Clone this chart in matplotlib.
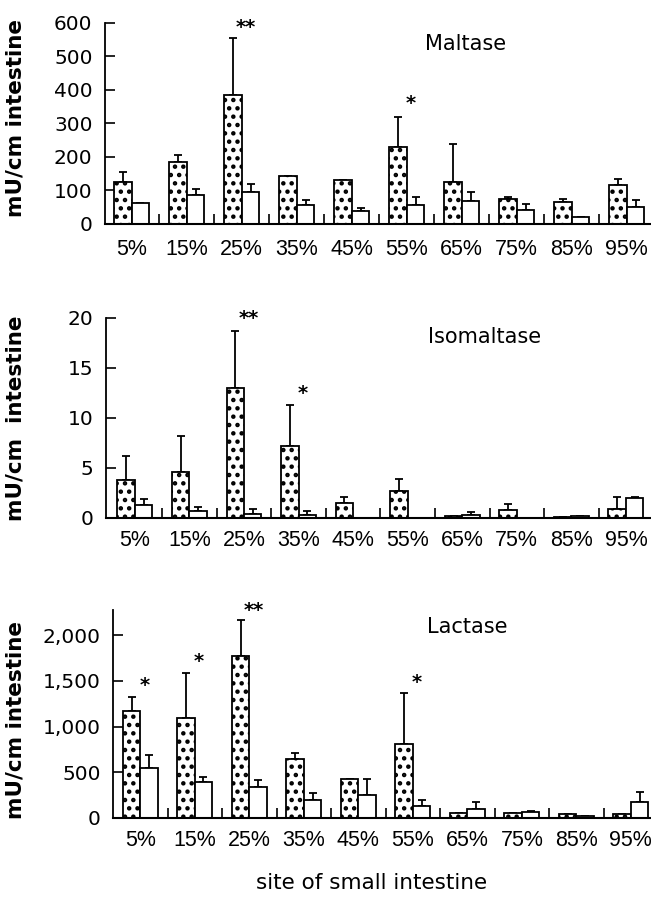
import numpy as np
import matplotlib
matplotlib.use("Agg")
import matplotlib.pyplot as plt

# ---------------- data ----------------
sites = ['5%', '15%', '25%', '35%', '45%', '55%', '65%', '75%', '85%', '95%']
nan = np.nan

maltase_dotted = [126, 185, 383, 144, 130, 229, 126, 73, 64, 116]
maltase_dotted_err = [29, 20, 172, nan, nan, 90, 111, 8, 10, 18]
maltase_open = [61, 86, 94, 57, 39, 56, 69, 42, 22, 50]
maltase_open_err = [nan, 17, 25, 15, 8, 25, 26, 16, nan, 20]
maltase_stars = [(2, '**', 603), (5, '*', 376)]

iso_dotted = [3.77, 4.58, 13.0, 7.2, 1.53, 2.7, 0.2, 0.83, 0.05, 0.93]
iso_dotted_err = [2.4, 3.6, 5.7, 4.05, 0.57, 1.2, nan, 0.6, nan, 1.14]
iso_open = [1.27, 0.73, 0.36, 0.3, 0.0, 0.0, 0.3, 0.0, 0.2, 1.95]
iso_open_err = [0.6, 0.37, 0.57, 0.36, nan, nan, 0.3, nan, nan, 0.1]
iso_stars = [(2, '**', 20.5), (3, '*', 13.0)]

lactase_dotted = [1168, 1099, 1777, 648, 429, 810, 59, 56, 48, 48]
lactase_dotted_err = [151, 483, 384, 59, nan, 556, nan, nan, nan, nan]
lactase_open = [546, 392, 337, 201, 256, 128, 100, 67, 22, 174]
lactase_open_err = [146, 55, 84, 74, 173, 73, 74, 14, nan, 115]
lactase_stars = [(0, '*', 1509), (1, '*', 1773), (2, '**', 2326), (5, '*', 1546)]

y_label = 'mU/cm intestine'
x_label = 'site of small intestine'

# ---------------- style ----------------
plt.rcParams['font.family'] = ['DejaVu Sans']
plt.rcParams['hatch.linewidth'] = 2.0
XT_FONT = ['Liberation Sans', 'DejaVu Sans']

fig = plt.figure(figsize=(6.51, 8.98), dpi=100)

panels = [
    dict(rect=[0.1613, 0.7506, 0.8387, 0.2242], xlim=(-0.485, 9.44), ylim=(0, 600),
         yticks=[0, 100, 200, 300, 400, 500, 600], ylabels=['0', '100', '200', '300', '400', '500', '600'],
         d=maltase_dotted, de=maltase_dotted_err, o=maltase_open, oe=maltase_open_err,
         stars=maltase_stars, title='Maltase', tpos=(0.661, 0.894), ylab=y_label, ylab_y=0.8686,
         xpad=11),
    dict(rect=[0.1628, 0.4232, 0.8372, 0.2227], xlim=(-0.53, 9.46), ylim=(0, 20),
         yticks=[0, 5, 10, 15, 20], ylabels=['0', '5', '10', '15', '20'],
         d=iso_dotted, de=iso_dotted_err, o=iso_open, oe=iso_open_err,
         stars=iso_stars, title='Isomaltase', tpos=(0.694, 0.906), ylab='mU/cm  intestine', ylab_y=0.5345,
         xpad=9),
    dict(rect=[0.1736, 0.0891, 0.8264, 0.2316], xlim=(-0.5, 9.37), ylim=(0, 2275),
         yticks=[0, 500, 1000, 1500, 2000], ylabels=['0', '500', '1,000', '1,500', '2,000'],
         d=lactase_dotted, de=lactase_dotted_err, o=lactase_open, oe=lactase_open_err,
         stars=lactase_stars, title='Lactase', tpos=(0.658, 0.92), ylab=y_label, ylab_y=0.198,
         xpad=9),
]

bw = 0.32
x = np.arange(len(sites))

for p in panels:
    ax = fig.add_axes(p['rect'])
    ax.bar(x - bw / 2, p['d'], width=bw, facecolor='white', edgecolor='black',
           linewidth=1.3, hatch='..', zorder=2)
    ax.bar(x + bw / 2, p['o'], width=bw, facecolor='white', edgecolor='black',
           linewidth=1.3, zorder=2)
    de = np.array(p['de'], dtype=float)
    oe = np.array(p['oe'], dtype=float)
    ax.errorbar(x - bw / 2, p['d'], yerr=[np.zeros_like(de), de], fmt='none',
                ecolor='black', elinewidth=1.3, capsize=3, capthick=1.3, zorder=1)
    ax.errorbar(x + bw / 2, p['o'], yerr=[np.zeros_like(oe), oe], fmt='none',
                ecolor='black', elinewidth=1.3, capsize=3, capthick=1.3, zorder=1)
    for idx, s, yv in p['stars']:
        ax.annotate(s, xy=(idx + 0.08, yv), xytext=(0, -8), textcoords='offset points',
                    ha='center', va='baseline', fontsize=14, fontweight='bold',
                    annotation_clip=False)
    ax.set_xlim(*p['xlim'])
    ax.set_ylim(*p['ylim'])
    ax.spines['top'].set_visible(False)
    ax.spines['right'].set_visible(False)
    ax.spines['left'].set_linewidth(1.3)
    ax.spines['bottom'].set_linewidth(1.5)
    ax.set_yticks(p['yticks'])
    ax.set_yticklabels(p['ylabels'], fontsize=14.5)
    ax.tick_params(axis='y', direction='in', length=7, width=1.2, pad=9)
    ax.set_xticks(x)
    ax.set_xticklabels(sites, fontsize=15.5, family=XT_FONT)
    ax.set_xticks(x[:-1] + 0.5, minor=True)
    ax.tick_params(axis='x', which='major', length=0, pad=p['xpad'])
    ax.tick_params(axis='x', which='minor', direction='in', length=7, width=1.2)
    ax.text(p['tpos'][0], p['tpos'][1], p['title'], transform=ax.transAxes,
            ha='center', va='center', fontsize=15)
    fig.text(0.024, p['ylab_y'], p['ylab'], rotation=90, ha='center', va='center',
             fontsize=15.5, fontweight='bold')

fig.text(0.571, 1 - 883 / 898, x_label, ha='center', va='center', fontsize=15.5)

fig.savefig('out.png', dpi=100)
